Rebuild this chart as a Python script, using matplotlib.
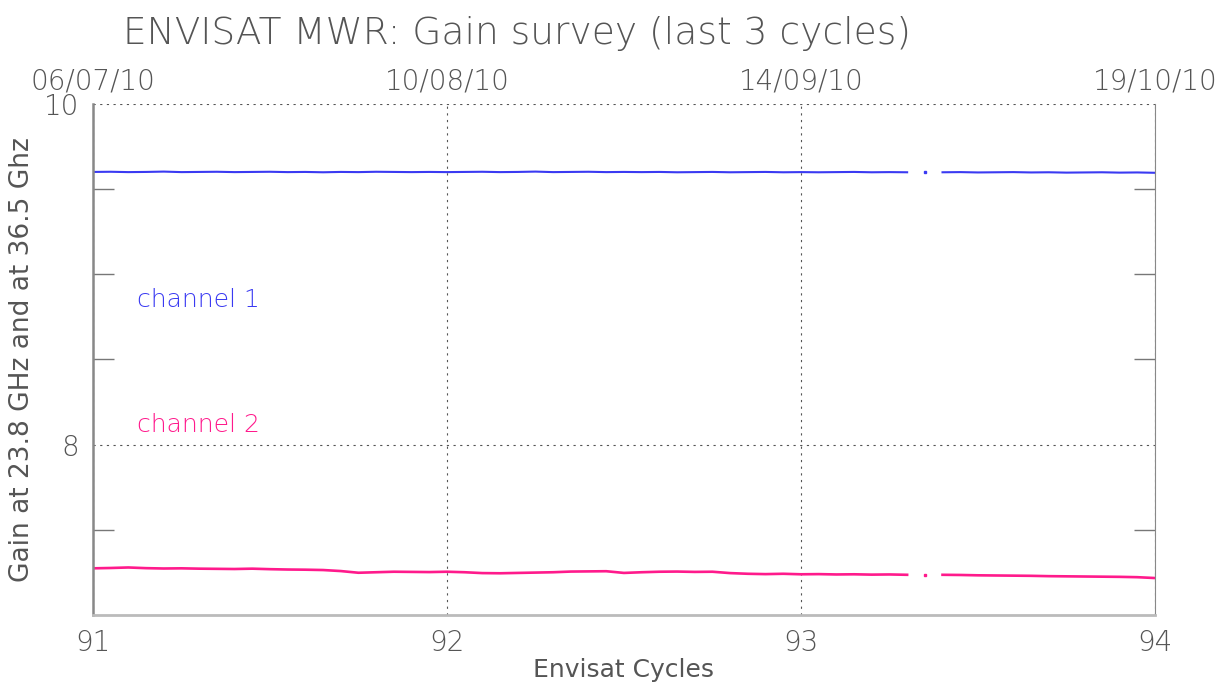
import numpy as np
import matplotlib
matplotlib.use("Agg")
import matplotlib.pyplot as plt

# sample grid of the two segments (gap around cycle 93.35)
cyc_a = np.round(np.arange(91.0, 93.301, 0.05), 2)
cyc_b = np.round(np.arange(93.40, 94.001, 0.05), 2)
cyc_dot = [93.35]

ch1_a = [9.601, 9.602, 9.600, 9.601, 9.603, 9.600, 9.601, 9.602, 9.600, 9.601,
         9.602, 9.600, 9.601, 9.599, 9.601, 9.600, 9.602, 9.601, 9.600, 9.601,
         9.600, 9.601, 9.602, 9.600, 9.601, 9.603, 9.600, 9.601, 9.602, 9.600,
         9.601, 9.600, 9.601, 9.599, 9.600, 9.601, 9.599, 9.600, 9.601, 9.599,
         9.600, 9.599, 9.600, 9.601, 9.599, 9.600, 9.599]
ch1_b = [9.599, 9.600, 9.598, 9.599, 9.600, 9.598, 9.599, 9.597, 9.598, 9.599,
         9.597, 9.598, 9.596]
ch1_dot = [9.598]

ch2_a = [7.274, 7.276, 7.279, 7.275, 7.273, 7.274, 7.272, 7.271, 7.270, 7.272,
         7.269, 7.267, 7.266, 7.264, 7.258, 7.248, 7.251, 7.254, 7.253, 7.252,
         7.254, 7.251, 7.246, 7.245, 7.247, 7.249, 7.251, 7.255, 7.256, 7.257,
         7.247, 7.251, 7.254, 7.255, 7.253, 7.254, 7.246, 7.242, 7.240, 7.242,
         7.239, 7.240, 7.238, 7.239, 7.237, 7.238, 7.236]
ch2_b = [7.236, 7.235, 7.233, 7.232, 7.231, 7.230, 7.228, 7.227, 7.226, 7.225,
         7.224, 7.222, 7.217]
ch2_dot = [7.236]

top_ticks = [91, 92, 93, 94]
top_labels = ["06/07/10", "10/08/10", "14/09/10", "19/10/10"]

blue = "#3a3af2"
pink = "#ff1a8c"
txt = "#555555"

plt.rcParams["font.family"] = ["DejaVu Sans"]
plt.rcParams["font.weight"] = "light"

fig = plt.figure(figsize=(12.31, 6.89), dpi=100)
ax = fig.add_axes([0.0755, 0.1074, 0.8627, 0.7417])

for xs, ys in [(cyc_a, ch1_a), (cyc_b, ch1_b)]:
    ax.plot(xs, ys, color=blue, lw=1.5)
for xs, ys in [(cyc_a, ch2_a), (cyc_b, ch2_b)]:
    ax.plot(xs, ys, color=pink, lw=1.9)
ax.plot(cyc_dot, ch1_dot, "s", color=blue, ms=1.5)
ax.plot(cyc_dot, ch2_dot, "s", color=pink, ms=1.5)

ax.set_xlim(91, 94)
ax.set_ylim(7, 10)

ax.set_xticks(top_ticks)
ax.set_xticklabels([str(t) for t in top_ticks])
ax.set_yticks([8, 10])
ax.set_yticklabels(["8", "10"])
ax.set_yticks([7.5, 8.5, 9.0, 9.5], minor=True)
ax.tick_params(axis="both", which="major", direction="in", length=0,
               labelsize=20, labelcolor=txt, pad=10)
ax.tick_params(axis="y", which="major", pad=10)
ax.tick_params(axis="y", which="minor", direction="in", length=15,
               width=1, color="#777777", right=True)
ax.grid(True, which="major", linestyle=(0, (2, 4)), color="#555555", lw=0.8)

for side in ["left", "bottom", "right", "top"]:
    ax.spines[side].set_color("#888888")
ax.spines["left"].set_linewidth(1.8)
ax.spines["bottom"].set_linewidth(2.0)
ax.spines["bottom"].set_color("#bbbbbb")
ax.spines["top"].set_visible(False)

ax.set_xlabel("Envisat Cycles", fontsize=18, color=txt, labelpad=1)
ax.set_ylabel("Gain at 23.8 GHz and at 36.5 Ghz", fontsize=19, color=txt, labelpad=6)

ax.text(91.124, 8.85, "channel 1", color=blue, fontsize=18, va="center")
ax.text(91.124, 8.115, "channel 2", color=pink, fontsize=18, va="center")

top = ax.twiny()
top.set_xlim(ax.get_xlim())
top.set_xticks(top_ticks)
top.set_xticklabels(top_labels)
top.tick_params(axis="x", length=0, labelsize=20, labelcolor=txt, pad=6)
for side in top.spines:
    top.spines[side].set_visible(False)

fig.text(0.42, 0.952, "ENVISAT MWR: Gain survey (last 3 cycles)", fontsize=27,
         color=txt, ha="center", va="center")

fig.savefig("out.png", dpi=100)
